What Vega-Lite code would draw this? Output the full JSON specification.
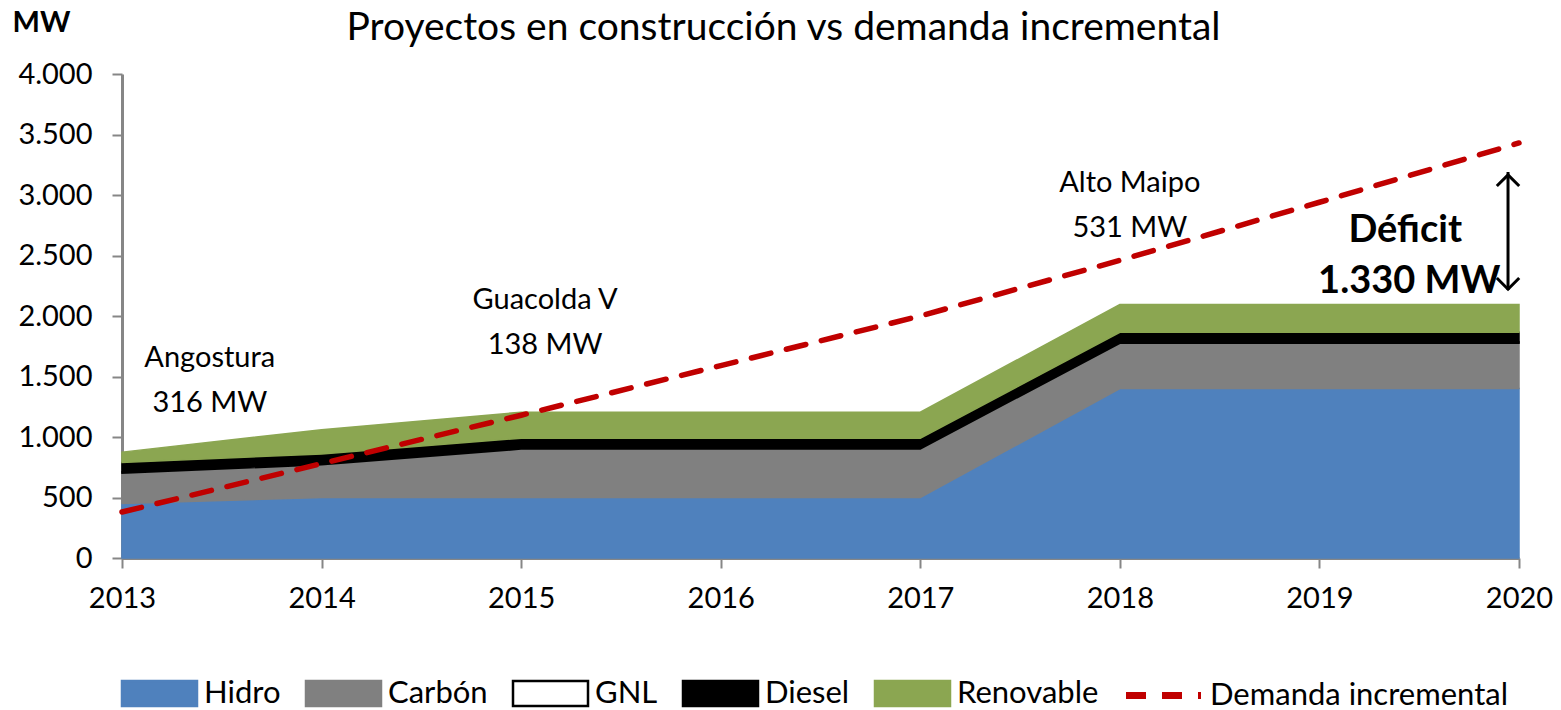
{
  "$schema": "https://vega.github.io/schema/vega-lite/v6.json",
  "width": 1397,
  "height": 484,
  "autosize": {"type": "none"},
  "padding": {"left": 122, "top": 74, "right": 42, "bottom": 152},
  "background": "white",
  "title": {"text": "Proyectos en construcción vs demanda incremental", "fontSize": 39, "font": "Lato", "fontWeight": "normal", "color": "black", "anchor": "middle", "offset": -40, "dx": -37},
  "config": {
    "locale": {"number": {"decimal": ",", "thousands": ".", "grouping": [3], "currency": ["$", ""]}},
    "view": {"stroke": null},
    "font": "Lato",
    "axis": {"labelFont": "Lato", "labelColor": "black", "labelFontSize": 29, "domainColor": "#868686", "domainWidth": 3, "tickColor": "#868686", "tickWidth": 2, "tickSize": 10, "grid": false},
    "legend": {"labelFont": "Lato", "labelFontSize": 31, "labelColor": "black", "labelLimit": 600, "layout": {"bottom": {"direction": "horizontal", "anchor": "middle", "margin": 36}}}
  },
  "datasets": {
    "capacidad": [
      {"anio": 2013, "serie": "Hidro", "orden": 1, "mw": 450},
      {"anio": 2013, "serie": "Carbón", "orden": 2, "mw": 250},
      {"anio": 2013, "serie": "GNL", "orden": 3, "mw": 10},
      {"anio": 2013, "serie": "Diesel", "orden": 4, "mw": 80},
      {"anio": 2013, "serie": "Renovable", "orden": 5, "mw": 85},
      {"anio": 2014, "serie": "Hidro", "orden": 1, "mw": 500},
      {"anio": 2014, "serie": "Carbón", "orden": 2, "mw": 270},
      {"anio": 2014, "serie": "GNL", "orden": 3, "mw": 10},
      {"anio": 2014, "serie": "Diesel", "orden": 4, "mw": 80},
      {"anio": 2014, "serie": "Renovable", "orden": 5, "mw": 200},
      {"anio": 2015, "serie": "Hidro", "orden": 1, "mw": 500},
      {"anio": 2015, "serie": "Carbón", "orden": 2, "mw": 400},
      {"anio": 2015, "serie": "GNL", "orden": 3, "mw": 10},
      {"anio": 2015, "serie": "Diesel", "orden": 4, "mw": 80},
      {"anio": 2015, "serie": "Renovable", "orden": 5, "mw": 215},
      {"anio": 2016, "serie": "Hidro", "orden": 1, "mw": 500},
      {"anio": 2016, "serie": "Carbón", "orden": 2, "mw": 400},
      {"anio": 2016, "serie": "GNL", "orden": 3, "mw": 10},
      {"anio": 2016, "serie": "Diesel", "orden": 4, "mw": 80},
      {"anio": 2016, "serie": "Renovable", "orden": 5, "mw": 215},
      {"anio": 2017, "serie": "Hidro", "orden": 1, "mw": 500},
      {"anio": 2017, "serie": "Carbón", "orden": 2, "mw": 400},
      {"anio": 2017, "serie": "GNL", "orden": 3, "mw": 10},
      {"anio": 2017, "serie": "Diesel", "orden": 4, "mw": 80},
      {"anio": 2017, "serie": "Renovable", "orden": 5, "mw": 215},
      {"anio": 2018, "serie": "Hidro", "orden": 1, "mw": 1400},
      {"anio": 2018, "serie": "Carbón", "orden": 2, "mw": 375},
      {"anio": 2018, "serie": "GNL", "orden": 3, "mw": 10},
      {"anio": 2018, "serie": "Diesel", "orden": 4, "mw": 80},
      {"anio": 2018, "serie": "Renovable", "orden": 5, "mw": 230},
      {"anio": 2019, "serie": "Hidro", "orden": 1, "mw": 1400},
      {"anio": 2019, "serie": "Carbón", "orden": 2, "mw": 375},
      {"anio": 2019, "serie": "GNL", "orden": 3, "mw": 10},
      {"anio": 2019, "serie": "Diesel", "orden": 4, "mw": 80},
      {"anio": 2019, "serie": "Renovable", "orden": 5, "mw": 230},
      {"anio": 2020, "serie": "Hidro", "orden": 1, "mw": 1400},
      {"anio": 2020, "serie": "Carbón", "orden": 2, "mw": 375},
      {"anio": 2020, "serie": "GNL", "orden": 3, "mw": 10},
      {"anio": 2020, "serie": "Diesel", "orden": 4, "mw": 80},
      {"anio": 2020, "serie": "Renovable", "orden": 5, "mw": 230}
    ],
    "demanda": [
      {"anio": 2013, "linea": "Demanda incremental", "mw": 380},
      {"anio": 2014, "linea": "Demanda incremental", "mw": 780},
      {"anio": 2015, "linea": "Demanda incremental", "mw": 1180},
      {"anio": 2016, "linea": "Demanda incremental", "mw": 1590},
      {"anio": 2017, "linea": "Demanda incremental", "mw": 2000},
      {"anio": 2018, "linea": "Demanda incremental", "mw": 2460},
      {"anio": 2019, "linea": "Demanda incremental", "mw": 2940},
      {"anio": 2020, "linea": "Demanda incremental", "mw": 3430}
    ],
    "notas": [
      {"anio": 2013.44, "mw": 1650, "texto": "Angostura"},
      {"anio": 2013.44, "mw": 1280, "texto": "316 MW"},
      {"anio": 2015.12, "mw": 2130, "texto": "Guacolda V"},
      {"anio": 2015.12, "mw": 1760, "texto": "138 MW"},
      {"anio": 2018.05, "mw": 3100, "texto": "Alto Maipo"},
      {"anio": 2018.05, "mw": 2727, "texto": "531 MW"}
    ],
    "notasNegrita": [
      {"anio": 2019.43, "mw": 2700, "texto": "Déficit"},
      {"anio": 2019.45, "mw": 2280, "texto": "1.330 MW"}
    ],
    "flecha": [
      {"anio": 2019.945, "desde": 2215, "hasta": 3190}
    ],
    "puntas": [
      {"anio": 2019.945, "mw": 3074, "dir": "arriba"},
      {"anio": 2019.945, "mw": 2314, "dir": "abajo"}
    ]
  },
  "layer": [
    {
      "data": {"name": "capacidad"},
      "mark": {"type": "area", "strokeWidth": 1.5, "interpolate": "linear"},
      "encoding": {
        "x": {"field": "anio", "type": "quantitative", "scale": {"domain": [2013, 2020], "nice": false, "zero": false},
              "axis": {"values": [2013, 2014, 2015, 2016, 2017, 2018, 2019, 2020], "format": "d", "title": null, "labelPadding": 16, "labelFlush": false}},
        "y": {"field": "mw", "type": "quantitative", "stack": "zero", "scale": {"domain": [0, 4000], "nice": false},
              "axis": {"values": [0, 500, 1000, 1500, 2000, 2500, 3000, 3500, 4000], "format": ",d", "labelPadding": 20,
                       "title": "MW", "titleAngle": 0, "titleFontSize": 29, "titleFont": "Lato", "titleFontWeight": "bold", "titleColor": "black", "titleAlign": "left", "titleBaseline": "top", "titleX": -110, "titleY": -66}},
        "order": {"field": "orden", "type": "quantitative"},
        "fill": {"field": "serie", "type": "nominal",
                 "scale": {"domain": ["Hidro", "Carbón", "GNL", "Diesel", "Renovable"], "range": ["#4F81BD", "#808080", "#FFFFFF", "#000000", "#8BA651"]},
                 "legend": {"title": null, "orient": "bottom", "direction": "horizontal", "symbolType": "M-1.5,-0.5H1.5V0.5H-1.5Z", "symbolSize": 2500, "symbolStrokeWidth": 2.5, "labelOffset": 18, "columnPadding": 20, "offset": 54}},
        "stroke": {"field": "serie", "type": "nominal",
                   "scale": {"domain": ["Hidro", "Carbón", "GNL", "Diesel", "Renovable"], "range": ["#4F81BD", "#808080", "#000000", "#000000", "#8BA651"]},
                   "legend": {"title": null, "orient": "bottom", "direction": "horizontal", "symbolType": "M-1.5,-0.5H1.5V0.5H-1.5Z", "symbolSize": 2500, "symbolStrokeWidth": 2.5, "labelOffset": 18, "columnPadding": 20, "offset": 54}}
      }
    },
    {
      "data": {"name": "demanda"},
      "mark": {"type": "line", "color": "#C00000", "strokeWidth": 5.5, "strokeCap": "round"},
      "encoding": {
        "x": {"field": "anio", "type": "quantitative"},
        "y": {"field": "mw", "type": "quantitative"},
        "strokeDash": {"field": "linea", "type": "nominal", "scale": {"range": [[20, 16]]},
                       "legend": {"title": null, "orient": "bottom", "direction": "horizontal", "symbolType": "M-1.5,0H1.5", "symbolSize": 2500, "symbolStrokeColor": "#C00000", "symbolFillColor": "transparent", "symbolStrokeWidth": 7, "symbolDash": [14, 12], "labelOffset": 18, "offset": 54}}
      }
    },
    {
      "data": {"name": "notas"},
      "mark": {"type": "text", "font": "Lato", "fontSize": 29, "color": "black", "align": "center", "baseline": "middle"},
      "encoding": {
        "x": {"field": "anio", "type": "quantitative"},
        "y": {"field": "mw", "type": "quantitative"},
        "text": {"field": "texto", "type": "nominal"}
      }
    },
    {
      "data": {"name": "notasNegrita"},
      "mark": {"type": "text", "font": "Lato", "fontSize": 38, "fontWeight": "bold", "color": "black", "align": "center", "baseline": "middle"},
      "encoding": {
        "x": {"field": "anio", "type": "quantitative"},
        "y": {"field": "mw", "type": "quantitative"},
        "text": {"field": "texto", "type": "nominal"}
      }
    },
    {
      "data": {"name": "flecha"},
      "mark": {"type": "rule", "color": "black", "strokeWidth": 3},
      "encoding": {
        "x": {"field": "anio", "type": "quantitative"},
        "y": {"field": "desde", "type": "quantitative"},
        "y2": {"field": "hasta"}
      }
    },
    {
      "data": {"name": "puntas"},
      "mark": {"type": "point", "filled": false, "stroke": "black", "strokeWidth": 3, "size": 500, "opacity": 1},
      "encoding": {
        "x": {"field": "anio", "type": "quantitative"},
        "y": {"field": "mw", "type": "quantitative"},
        "shape": {"field": "dir", "type": "nominal", "scale": {"domain": ["arriba", "abajo"], "range": ["M-1,0L0,-1L1,0", "M-1,0L0,1L1,0"]}, "legend": null}
      }
    }
  ],
  "resolve": {"scale": {"shape": "independent"}}
}
